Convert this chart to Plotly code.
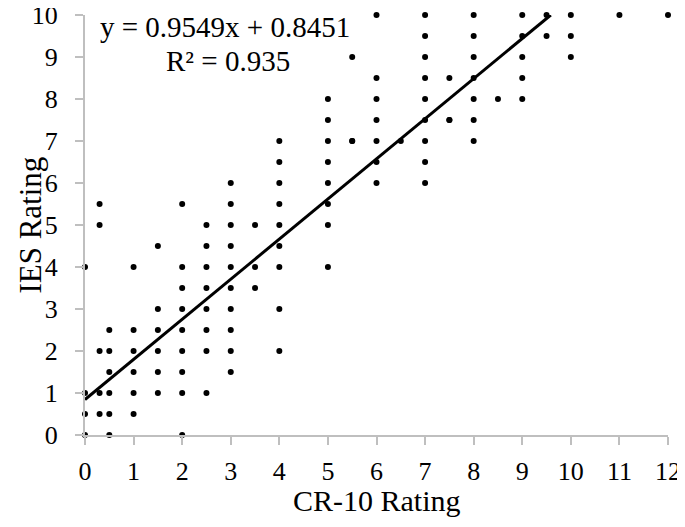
import plotly.graph_objects as go

# CR-10 rating (x) and IES rating (y), one entry per dot, grouped by x column
cr10 = (
    [0] * 4 + [0.3] * 5 + [0.5] * 6 + [1] * 6 + [1.5] * 6 + [2] * 9 +
    [2.5] * 8 + [3] * 10 + [3.5] * 3 + [4] * 9 + [5] * 8 + [5.5] * 3 +
    [6] * 7 + [6.5] * 1 + [7] * 9 + [7.5] * 3 + [8] * 7 + [8.5] * 1 +
    [9] * 5 + [9.5] * 2 + [10] * 3 + [11] * 1 + [12] * 1
)
ies = (
    [0, 0.5, 1, 4] +
    [0.5, 1, 2, 5, 5.5] +
    [0, 0.5, 1, 1.5, 2, 2.5] +
    [0.5, 1, 1.5, 2, 2.5, 4] +
    [1, 1.5, 2, 2.5, 3, 4.5] +
    [0, 1, 1.5, 2, 2.5, 3, 3.5, 4, 5.5] +
    [1, 2, 2.5, 3, 3.5, 4, 4.5, 5] +
    [1.5, 2, 2.5, 3, 3.5, 4, 4.5, 5, 5.5, 6] +
    [3.5, 4, 5] +
    [2, 3, 4, 4.5, 5, 5.5, 6, 6.5, 7] +
    [4, 5, 5.5, 6, 6.5, 7, 7.5, 8] +
    [7, 9, 7] +
    [6, 6.5, 7, 7.5, 8, 8.5, 10] +
    [7] +
    [6, 6.5, 7, 7.5, 8, 8.5, 9, 9.5, 10] +
    [7.5, 8.5, 7.5] +
    [7, 7.5, 8, 8.5, 9, 9.5, 10] +
    [8] +
    [8, 8.5, 9, 9.5, 10] +
    [9.5, 10] +
    [9, 9.5, 10] +
    [10] +
    [10]
)

# linear trendline (Excel)
slope = 0.9549
intercept = 0.8451
r2 = 0.935

x_ticks = list(range(0, 13))
y_ticks = list(range(0, 11))

serif = "Liberation Serif, Times New Roman, serif"

fig = go.Figure()
fig.add_trace(go.Scatter(
    x=cr10, y=ies, mode="markers",
    marker=dict(color="black", size=6),
    cliponaxis=False, showlegend=False
))
x_end = (10 - intercept) / slope
fig.add_trace(go.Scatter(
    x=[0, x_end], y=[intercept, intercept + slope * x_end], mode="lines",
    line=dict(color="black", width=3),
    cliponaxis=False, showlegend=False
))

# trendline label, two lines
fig.add_annotation(
    text=f"y = {slope}x + {intercept}",
    xref="paper", yref="paper", x=0.24, y=0.971, xanchor="center", yanchor="middle",
    showarrow=False, font=dict(family=serif, size=29, color="black")
)
fig.add_annotation(
    text=f"R² = {r2}",
    xref="paper", yref="paper", x=0.245, y=0.89, xanchor="center", yanchor="middle",
    showarrow=False, font=dict(family=serif, size=29, color="black")
)

# axis titles
fig.add_annotation(
    text="CR-10 Rating", xref="paper", yref="paper", x=0.5, y=-0.155,
    xanchor="center", yanchor="middle", showarrow=False,
    font=dict(family=serif, size=30, color="black")
)
fig.add_annotation(
    text="IES Rating", xref="paper", yref="paper", x=-0.095, y=0.5, textangle=-90,
    xanchor="center", yanchor="middle", showarrow=False,
    font=dict(family=serif, size=31, color="black")
)

axis_common = dict(
    showgrid=False, zeroline=False, showline=True, automargin=False,
    linecolor="#bfbfbf", linewidth=2,
    ticks="outside", ticklen=8, tickwidth=2, tickcolor="#bfbfbf",
    tickfont=dict(family=serif, size=26, color="black"),
    ticklabeloverflow="allow",
)
fig.update_xaxes(range=[0, 12], tickvals=x_ticks, ticklabelstandoff=4, **axis_common)
fig.update_yaxes(range=[0, 10], tickvals=y_ticks, ticklabelstandoff=12, **axis_common)

# page body adds 8px, so margins are shifted to keep the plot at 85..668 x 15..435
fig.update_layout(
    width=685, height=527,
    margin=dict(l=77, r=25, t=7, b=100),
    plot_bgcolor="white", paper_bgcolor="white",
)

fig.write_html("out.html")
